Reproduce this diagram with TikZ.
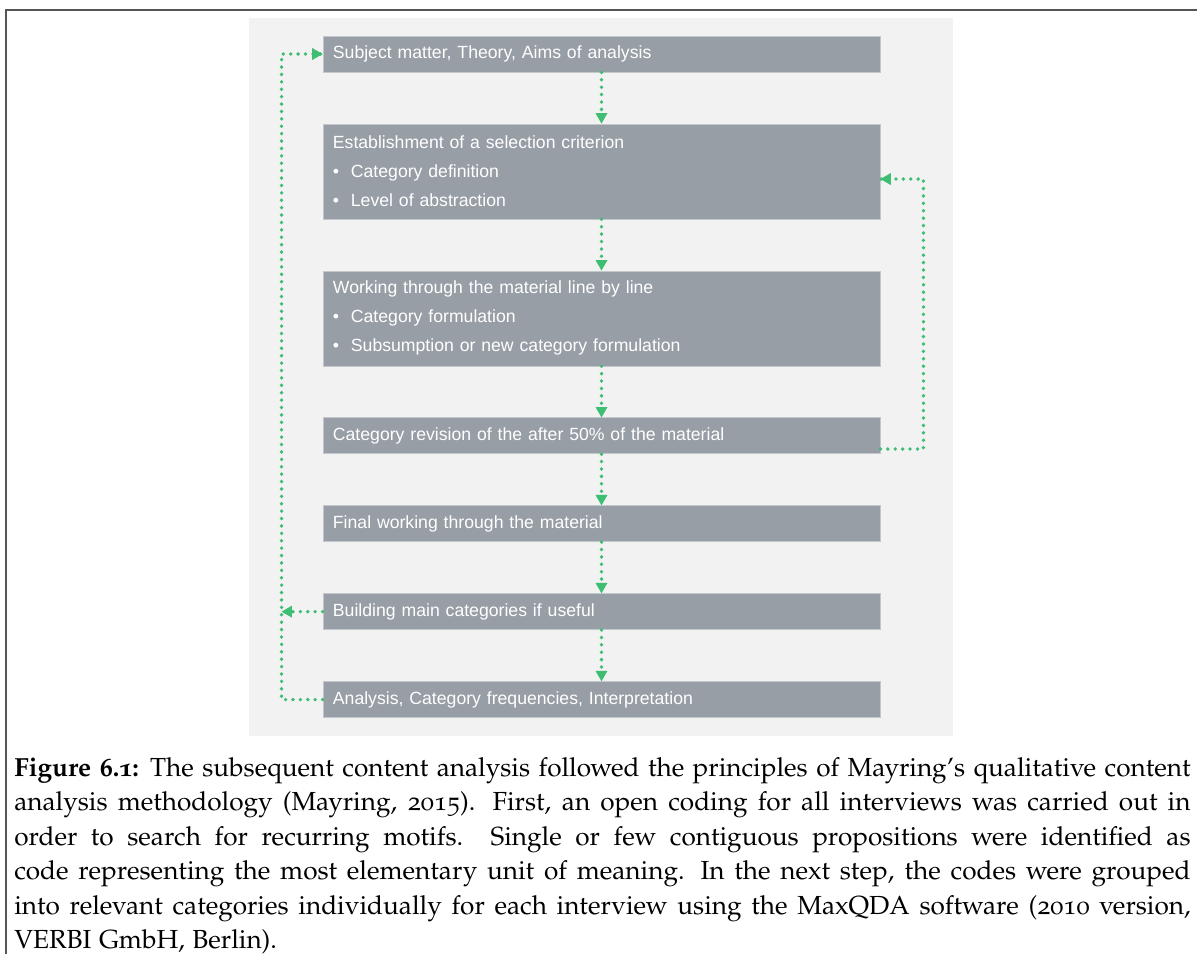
\documentclass[tikz,border=0pt]{standalone}
\usepackage{fontspec}
\newfontfamily\diagfont{Liberation Sans}
\usepackage[T1]{fontenc}
\usepackage[osf]{mathpazo}
\usetikzlibrary{positioning}
\usetikzlibrary{decorations.markings}
\definecolor{my_gray}{RGB}{151, 158, 166}
\definecolor{my_edge}{RGB}{194, 199, 204}
\definecolor{my_panel}{RGB}{242, 242, 242}
\definecolor{my_green}{RGB}{62, 190, 114}
\definecolor{my_frame}{RGB}{85, 85, 85}
\newcommand{\itembullet}{\makebox[0.45cm][l]{\textbullet}}
\tikzset {
  box/.style = {draw=my_edge, line width=0.5pt, fill=my_gray, text=white, rectangle, font=\diagfont\fontsize{12.55}{20.6}\selectfont, text width=13.425cm, inner xsep=0.25cm, inner ysep=0pt, align=left, minimum height=0.9cm},
  bigbox/.style = {box, minimum height=2.375cm},
  % dotted connector, the tip is put on with a marking so it stays solid
  line/.style = {my_green, line width=0.095cm, line cap=round, dash pattern=on 0pt off 0.185cm,
    decoration={markings, mark=at position 1 with {\fill[my_green] (0,0) -- (-0.26cm,0.15cm) -- (-0.26cm,-0.15cm) -- cycle;}},
    postaction={decorate}},
  caption/.style = {inner sep=0pt, text width=29.4cm, align=justify, font=\fontsize{18.6}{24.5}\selectfont, anchor=north west}
}

\begin{document}
\begin{tikzpicture}[x=0.025cm, y=0.025cm, node distance=1.28cm]

    \useasboundingbox (0,-954) rectangle (1197,0);
    \draw[my_frame, line width=0.04cm] (1197,-10) -- (6,-10) -- (6,-954);
    \fill[my_panel] (249,-18) rectangle (953,-736);

    \node[box] (b1) at (601.5,-54) {Subject matter, Theory, Aims of analysis};
    \node[bigbox, below=of b1] (b2) {Establishment of a selection criterion\\ \itembullet Category definition\\ \itembullet Level of abstraction};
    \node[bigbox, below=of b2] (b3) {Working through the material line by line\\ \itembullet Category formulation\\ \itembullet Subsumption or new category formulation};
    \node[box, below=of b3] (b4) {Category revision of the after 50\% of the material};
    \node[box, below=of b4] (b5) {Final working through the material};
    \node[box, below=of b5] (b6) {Building main categories if useful};
    \node[box, below=of b6] (b7) {Analysis, Category frequencies, Interpretation};

    \draw[line] (b1) -- (b2);
    \draw[line] (b2) -- (b3);
    \draw[line] (b3) -- (b4);
    \draw[line] (b4) -- (b5);
    \draw[line] (b5) -- (b6);
    \draw[line] (b6) -- (b7);

    \coordinate (turn) at ([xshift=-1.025cm]b7.west);
    \draw[line] ([yshift=-0.33cm]b4.east) -- ++(1.075cm,0) |- ([yshift=-0.19cm]b2.east);
    \draw[line] (b7.west) -- (turn) |- (b1.west);
    \draw[line] (b6.west) -- (b6.west -| turn);

    \node[caption] (caption) at (14,-757) {\textbf{Figure 6.1:} The subsequent content analysis followed the principles of Mayring's qualitative content\linebreak analysis methodology (Mayring, 2015). First, an open coding for all interviews was carried out in\linebreak order to search for recurring motifs.  Single or few contiguous propositions were identified as\linebreak code representing the most elementary unit of meaning. In the next step, the codes were grouped\linebreak into relevant categories individually for each interview using the MaxQDA software (2010 version,\linebreak VERBI GmbH, Berlin).};

  \end{tikzpicture}
\end{document}
